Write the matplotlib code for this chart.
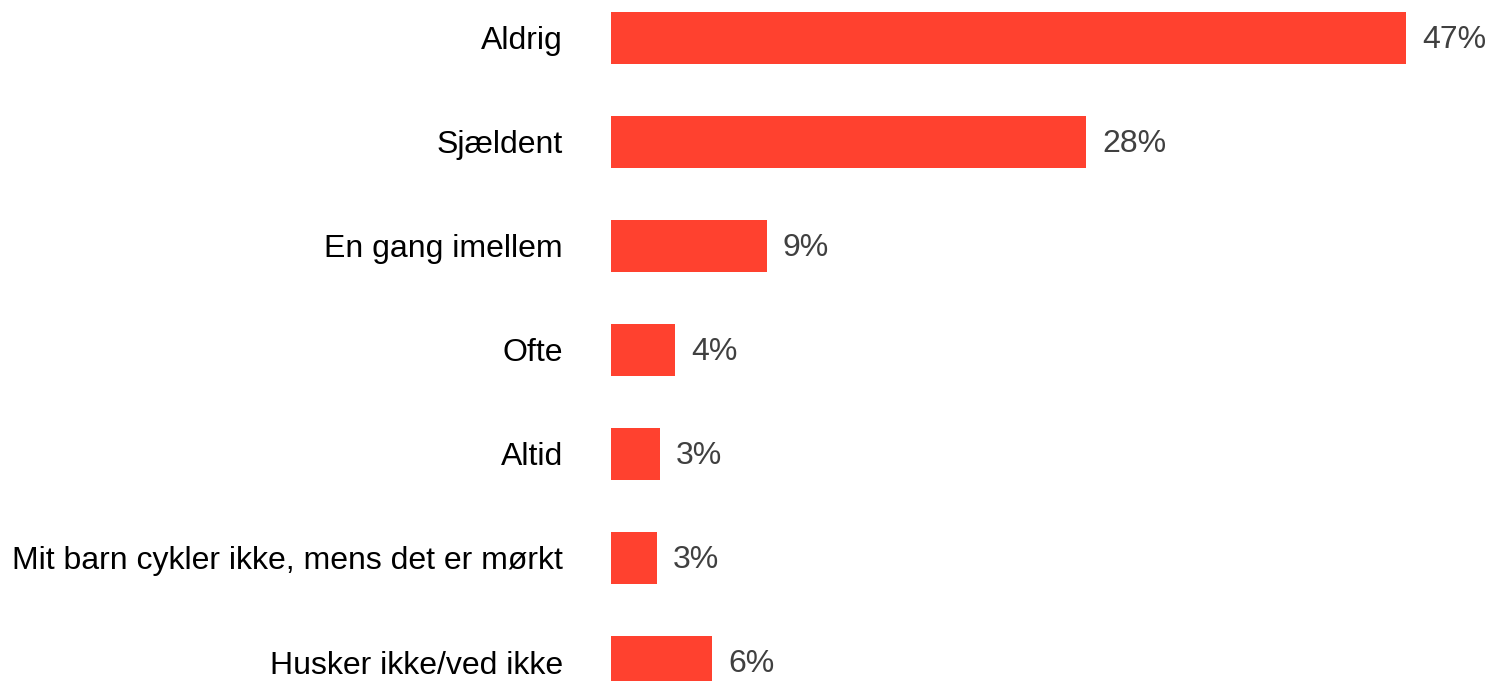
import matplotlib.pyplot as plt

# Data
categories = ["Aldrig", "Sjældent", "En gang imellem", "Ofte", "Altid",
              "Mit barn cykler ikke, mens det er mørkt", "Husker ikke/ved ikke"]
values = [47.0, 28.1, 9.2, 3.8, 2.9, 2.7, 6.0]
value_labels = ["47%", "28%", "9%", "4%", "3%", "3%", "6%"]

plt.rcParams['font.family'] = ['Liberation Sans', 'DejaVu Sans']

W, H = 1491, 681
fig = plt.figure(figsize=(W / 100, H / 100), dpi=100)
# axes spans from bar start (x=611) to end of the longest bar (x=1406)
ax = fig.add_axes([611 / W, 0, (1406 - 611) / W, 1])

pos = list(range(len(categories)))
ax.barh(pos, values, height=0.5, color="#FF412F")
ax.set_xlim(0, 47.0)
ax.set_ylim((H - 38) / 104, -38 / 104)

for p, v, lab in zip(pos, values, value_labels):
    ax.annotate(lab, (v, p), xytext=(16, -2), textcoords="offset pixels",
                ha="left", va="center", fontsize=23, color="#404040",
                annotation_clip=False)

ax.set_yticks(pos)
ax.set_yticklabels(categories, fontsize=23, color="black")
ax.tick_params(axis="y", length=0, pad=34.5)
ax.set_xticks([])
for s in ax.spines.values():
    s.set_visible(False)

fig.savefig("out.png", dpi=100)
